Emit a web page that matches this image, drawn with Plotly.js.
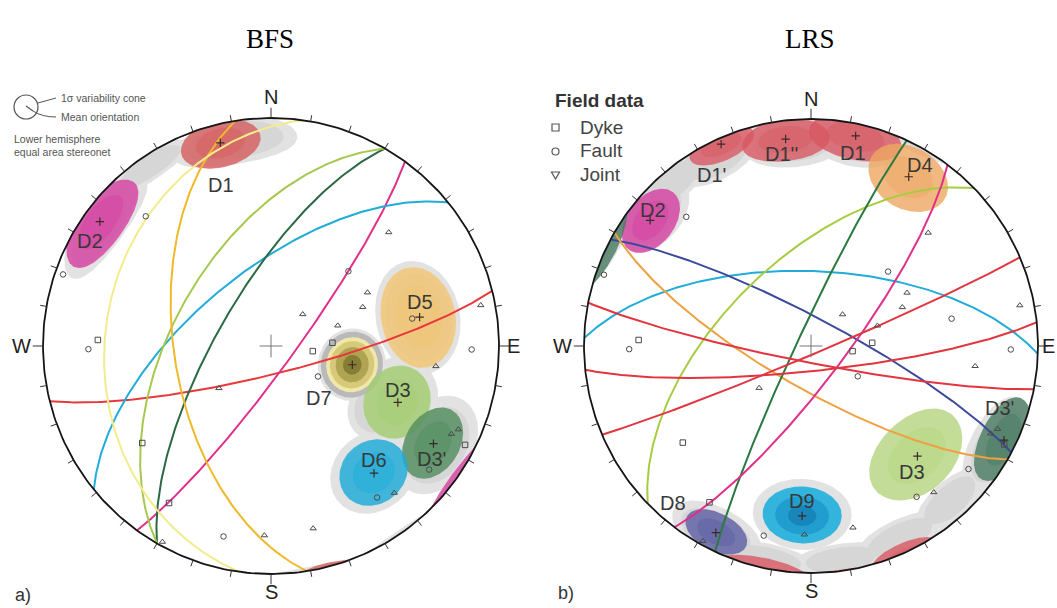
<!DOCTYPE html>
<html>
<head>
<meta charset="utf-8">
<script src="https://cdn.plot.ly/plotly-3.0.1.min.js"></script>
<style>
  html, body { margin: 0; padding: 0; background: #ffffff; }
  #chart { width: 1057px; height: 608px; }
</style>
</head>
<body>
<div id="chart"></div>
<script>
// ---------- Field data: poles as trend / plunge (degrees), same set at both sites ----------
const dykeTrend   = [272, 233, 213, 87, 97, 117];
const dykePlunge  = [25, 30, 19, 68, 75, 5];
const faultTrend  = [316, 289, 269, 194, 46, 123, 79, 91, 128, 145];
const faultPlunge = [22, 4, 21, 15, 51, 70, 37, 13, 13, 20];
const jointTrend  = [231, 209, 182, 46, 61, 67, 45, 73, 79, 97, 114, 116, 140, 167];
const jointPlunge = [66, 2, 18, 29, 50, 54, 74, 65, 7, 28, 11, 13, 17, 19];

// ---------- BFS ----------
// mean planes of the discontinuity sets (strike / dip, right-hand rule)
const bfsPlaneStrike = [76, 36, 231, 210, 210, 171, 188];
const bfsPlaneDip    = [80, 82, 63, 71, 55, 55, 28];
// discontinuity sets: mean pole and 1-sigma variability cone (semi-axes, degrees)
const bfsSetName    = ['D1', 'D2', 'D5', 'D7', 'D3', "D3'", 'D6'];
const bfsSetTrend   = [346, 306, 79, 103, 114, 121, 141];
const bfsSetPlunge  = [9, 8, 34, 60, 39, 18, 29];
const bfsConeAlong  = [11, 11, 15, 9.5, 13, 12, 13];
const bfsConeAcross = [11, 14, 16, 9.5, 12, 11, 11];
// pole-density areas
const bfsDensTrend  = [350, 306, 326, 103, 79, 114, 121, 141, 120];
const bfsDensPlunge = [9, 9, 5, 60, 34, 39, 16, 29, 45];
const bfsDensAlong  = [11, 11, 7, 12.5, 17, 16, 17, 16, 11];
const bfsDensAcross = [17, 17, 12, 12.5, 18, 15, 15, 14, 11];

// ---------- LRS ----------
const lrsPlaneStrike = [272, 298, 120, 226, 205, 37, 101, 84, 67];
const lrsPlaneDip    = [63, 80, 75, 59, 85, 78, 84, 81, 87];
const lrsSetName    = ['D1', "D1''", "D1'", 'D2', 'D4', "D3'", 'D3', 'D9', 'D8'];
const lrsSetTrend   = [12, 353, 336, 308, 30, 116, 136, 183, 207];
const lrsSetPlunge  = [6, 9, 3, 11, 15, 6, 33, 26, 8.5];
const lrsConeAlong  = [11, 10, 8, 11, 14, 11, 15, 12, 9];
const lrsConeAcross = [12.5, 12, 9, 10, 12, 12, 17, 12, 9];
const lrsDensTrend  = [333, 355, 12, 310, 320, 207, 183, 192, 172, 155, 138, 118];
const lrsDensPlunge = [7, 10, 9, 10, 6, 8, 26, 4, 5, 7, 9, 7];
const lrsDensAlong  = [11, 12, 11, 13, 9, 12, 15, 8, 8, 9, 9, 13];
const lrsDensAcross = [12, 14, 12, 12, 10, 13, 15, 12, 12, 12, 11, 14];

// ---------- styles ----------
const bfsPlaneColor = ['#e8383a', '#e0308a', '#22acd8', '#2b6a44', '#a6c84e', '#f0b92a', '#f2ec8c'];
const lrsPlaneColor = ['#22acd8', '#3c4a9c', '#f0a040', '#a8cc40', '#2a7a40', '#e0308a', '#e2353f', '#e2353f', '#e2353f'];
const bfsSetColor = ['214,92,92', '214,62,160', '242,198,112', '', '164,206,112', '80,140,92', '28,172,218'];
const lrsSetColor = ['216,88,98', '216,88,98', '216,88,98', '214,62,160', '238,168,98', '72,122,96', '180,212,126', '32,176,222', '92,94,162'];
// label offsets from the mean pole (px, right / down)
const bfsLabelDX = [1, -10, 0, -33, 0, -2, 0];
const bfsLabelDY = [42, 19, -15, 33, -12, 15, -13];
const lrsLabelDX = [-3, -4, -10, 3, 11, -5, -5, 0, -43];
const lrsLabelDY = [17, 15, 31, -10, -12, -32, 16, -15, -30];

// ---------- geometry: lower-hemisphere equal-area projection ----------
const rad = d => d * Math.PI / 180;
function lineVec(tr, pl) {
  const t = rad(tr), p = rad(pl);
  return [Math.cos(p) * Math.sin(t), Math.cos(p) * Math.cos(t), Math.sin(p)];
}
function toLower(v) {
  if (v[2] >= 0) return v;
  const h = Math.hypot(v[0], v[1]) || 1;
  return [v[0] / h, v[1] / h, 0];
}
function project(v) {
  const f = Math.sqrt(1 / (1 + v[2]));
  return [v[0] * f, v[1] * f];
}
function planeCurve(strike, dip) {
  const S = rad(strike), D = rad(dip), dd = S + Math.PI / 2;
  const s = [Math.sin(S), Math.cos(S), 0];
  const d = [Math.sin(dd) * Math.cos(D), Math.cos(dd) * Math.cos(D), Math.sin(D)];
  const xs = [], ys = [];
  for (let i = 0; i <= 180; i++) {
    const a = rad(i);
    const v = [0, 1, 2].map(k => Math.cos(a) * s[k] + Math.sin(a) * d[k]);
    const p = project(toLower(v));
    xs.push(p[0]); ys.push(p[1]);
  }
  return [xs, ys];
}
function coneParts(tr, pl, along, across, scale) {
  const t = rad(tr), p = rad(pl);
  const m = lineVec(tr, pl);
  const u = [-Math.sin(p) * Math.sin(t), -Math.sin(p) * Math.cos(t), Math.cos(p)];
  const w = [Math.cos(t), -Math.sin(t), 0];
  const A = rad(along * scale), B = rad(across * scale);
  const pts = [];
  const N = 160;
  for (let k = 0; k <= N; k++) {
    const psi = 2 * Math.PI * k / N;
    const c = Math.cos(psi), s = Math.sin(psi);
    const rho = A * B / Math.hypot(B * c, A * s);
    pts.push([0, 1, 2].map(i => Math.cos(rho) * m[i] + Math.sin(rho) * (c * u[i] + s * w[i])));
  }
  const sets = [pts.map(toLower)];
  if (pts.some(v => v[2] < 0)) sets.push(pts.map(v => toLower([-v[0], -v[1], -v[2]])));
  return sets.map(ps => {
    const pr = ps.map(project);
    return [pr.map(q => q[0]), pr.map(q => q[1])];
  });
}

// ---------- page layout ----------
const W = 1057, H = 608;
const FONT = 'Liberation Sans, Arial, sans-serif';
const SERIF = 'Liberation Serif, Times New Roman, serif';
const nets = [
  { cx: 271, cy: 346, R: 228, xr: [-1.15, 1.15], yr: [-1.14, 1.2], xa: 'x', ya: 'y',
    strike: bfsPlaneStrike, dip: bfsPlaneDip, pcol: bfsPlaneColor,
    name: bfsSetName, tr: bfsSetTrend, pl: bfsSetPlunge, ca: bfsConeAlong, cb: bfsConeAcross, scol: bfsSetColor,
    ldx: bfsLabelDX, ldy: bfsLabelDY,
    dTr: bfsDensTrend, dPl: bfsDensPlunge, dA: bfsDensAlong, dB: bfsDensAcross,
    wx: -1.095, ex: 1.065 },
  { cx: 811, cy: 346, R: 227, xr: [-1.15, 1.08], yr: [-1.14, 1.2], xa: 'x2', ya: 'y2',
    strike: lrsPlaneStrike, dip: lrsPlaneDip, pcol: lrsPlaneColor,
    name: lrsSetName, tr: lrsSetTrend, pl: lrsSetPlunge, ca: lrsConeAlong, cb: lrsConeAcross, scol: lrsSetColor,
    ldx: lrsLabelDX, ldy: lrsLabelDY,
    dTr: lrsDensTrend, dPl: lrsDensPlunge, dA: lrsDensAlong, dB: lrsDensAcross,
    wx: -1.093, ex: 1.045 }
];

const traces = [];
const annotations = [];
const shapes = [];

function fillTrace(net, xy, color) {
  traces.push({ type: 'scatter', mode: 'lines', x: xy[0], y: xy[1], fill: 'toself',
    fillcolor: color, line: { width: 0, color: 'rgba(0,0,0,0)' },
    hoverinfo: 'skip', showlegend: false, xaxis: net.xa, yaxis: net.ya });
}
function addCone(net, tr, pl, a, b, scale, color) {
  coneParts(tr, pl, a, b, scale).forEach(xy => fillTrace(net, xy, color));
}
function markers(net, trs, pls, symbol) {
  const xs = [], ys = [];
  trs.forEach((t, i) => { const p = project(lineVec(t, pls[i])); xs.push(p[0]); ys.push(p[1]); });
  traces.push({ type: 'scatter', mode: 'markers', x: xs, y: ys,
    marker: { symbol: symbol, size: 5.5, color: '#4a4a4a', line: { color: '#4a4a4a', width: 1 } },
    hoverinfo: 'skip', showlegend: false, xaxis: net.xa, yaxis: net.ya });
}

nets.forEach(net => {
  // density areas
  net.dTr.forEach((t, i) => addCone(net, t, net.dPl[i], net.dA[i], net.dB[i], 1, '#e2e2e2'));
  net.dTr.forEach((t, i) => addCone(net, t, net.dPl[i], net.dA[i], net.dB[i], 0.78, '#d6d6d6'));

  // variability cones
  net.name.forEach((n, i) => {
    const t = net.tr[i], p = net.pl[i], a = net.ca[i], b = net.cb[i];
    if (n === 'D7' && net.xa === 'x') {
      addCone(net, t, p, a, b, 1.2, '#b9b9b9');
      addCone(net, t, p, a, b, 1.0, '#f1e7a8');
      addCone(net, t, p, a, b, 0.86, '#d6ca7a');
      addCone(net, t, p, a, b, 0.64, '#aea451');
      addCone(net, t, p, a, b, 0.36, '#877e36');
    } else if (n === 'D9') {
      addCone(net, t, p, a, b, 1.0, 'rgba(' + net.scol[i] + ',0.9)');
      addCone(net, t, p, a, b, 0.68, 'rgba(20,140,195,0.55)');
      addCone(net, t, p, a, b, 0.36, 'rgba(15,110,165,0.5)');
    } else {
      addCone(net, t, p, a, b, 1.0, 'rgba(' + net.scol[i] + ',0.8)');
      addCone(net, t, p, a, b, 0.62, 'rgba(' + net.scol[i] + ',0.45)');
    }
  });

  // mean planes
  net.strike.forEach((s, i) => {
    const c = planeCurve(s, net.dip[i]);
    traces.push({ type: 'scatter', mode: 'lines', x: c[0], y: c[1],
      line: { color: net.pcol[i], width: 2 }, hoverinfo: 'skip', showlegend: false,
      xaxis: net.xa, yaxis: net.ya });
  });

  // field data
  markers(net, dykeTrend, dykePlunge, 'square-open');
  markers(net, faultTrend, faultPlunge, 'circle-open');
  markers(net, jointTrend, jointPlunge, 'triangle-up-open');

  // mean orientations and set labels
  const mx = [], my = [];
  net.name.forEach((n, i) => {
    const p = project(lineVec(net.tr[i], net.pl[i]));
    mx.push(p[0]); my.push(p[1]);
    annotations.push({ xref: net.xa, yref: net.ya, x: p[0], y: p[1], text: n, showarrow: false,
      xanchor: 'center', yanchor: 'middle',
      xshift: net.ldx[i], yshift: -net.ldy[i],
      font: { family: FONT, size: 20, color: '#383838' } });
  });
  traces.push({ type: 'scatter', mode: 'markers', x: mx, y: my,
    marker: { symbol: 'cross-thin', size: 6, line: { color: '#3a2a2a', width: 1.2 } },
    hoverinfo: 'skip', showlegend: false, xaxis: net.xa, yaxis: net.ya });

  // primitive circle, ticks, centre cross
  const cxs = [], cys = [];
  for (let i = 0; i <= 360; i++) { cxs.push(Math.sin(rad(i))); cys.push(Math.cos(rad(i))); }
  traces.push({ type: 'scatter', mode: 'lines', x: cxs, y: cys, line: { color: '#151515', width: 1.8 },
    hoverinfo: 'skip', showlegend: false, xaxis: net.xa, yaxis: net.ya });
  const tx = [], ty = [];
  for (let d = 0; d < 360; d += 10) {
    const r2 = (d % 90 === 0) ? 1.045 : 1.028;
    tx.push(Math.sin(rad(d)), r2 * Math.sin(rad(d)), null);
    ty.push(Math.cos(rad(d)), r2 * Math.cos(rad(d)), null);
  }
  traces.push({ type: 'scatter', mode: 'lines', x: tx, y: ty, line: { color: '#333', width: 1 },
    hoverinfo: 'skip', showlegend: false, xaxis: net.xa, yaxis: net.ya });
  traces.push({ type: 'scatter', mode: 'lines', x: [-0.05, 0.05, null, 0, 0], y: [0, 0, null, -0.05, 0.05],
    line: { color: '#777', width: 1 }, hoverinfo: 'skip', showlegend: false, xaxis: net.xa, yaxis: net.ya });

  // compass letters
  const letters = [['N', 0, 1.09], ['S', 0, -1.08], ['W', net.wx, 0], ['E', net.ex, 0]];
  letters.forEach(l => annotations.push({ xref: net.xa, yref: net.ya, x: l[1], y: l[2], text: l[0],
    showarrow: false, xanchor: 'center', yanchor: 'middle',
    font: { family: FONT, size: 20, color: '#222' } }));
});

// ---------- titles, panel letters, keys (paper coordinates from pixels) ----------
const px = x => x / W, py = y => (H - y) / H;
function paperText(x, y, text, font, xanchor) {
  annotations.push({ xref: 'paper', yref: 'paper', x: px(x), y: py(y), text: text,
    showarrow: false, xanchor: xanchor || 'center', yanchor: 'middle', font: font });
}
paperText(270, 39, 'BFS', { family: SERIF, size: 27, color: '#000' });
paperText(810, 39, 'LRS', { family: SERIF, size: 27, color: '#000' });
paperText(23, 595, 'a)', { family: FONT, size: 18, color: '#333' });
paperText(566, 593, 'b)', { family: FONT, size: 18, color: '#333' });

// cone key (BFS)
const keyFont = { family: FONT, size: 10.5, color: '#555' };
paperText(59, 98, '1σ variability cone', keyFont, 'left');
paperText(59, 117, 'Mean orientation', keyFont, 'left');
paperText(12, 139, 'Lower hemisphere', keyFont, 'left');
paperText(12, 152, 'equal area stereonet', keyFont, 'left');
shapes.push({ type: 'circle', xref: 'paper', yref: 'paper', x0: px(14), x1: px(38), y0: py(119), y1: py(95),
  line: { color: '#555', width: 1.2 } });
shapes.push({ type: 'line', xref: 'paper', yref: 'paper', x0: px(38), y0: py(103), x1: px(56), y1: py(98),
  line: { color: '#555', width: 1 } });
shapes.push({ type: 'line', xref: 'paper', yref: 'paper', x0: px(26), y0: py(106), x1: px(33), y1: py(111),
  line: { color: '#555', width: 1.2 } });
shapes.push({ type: 'path', xref: 'paper', yref: 'paper',
  path: 'M ' + px(33) + ' ' + py(111) + ' Q ' + px(42) + ' ' + py(117) + ' ' + px(56) + ' ' + py(117),
  line: { color: '#555', width: 1 } });

// field data key (LRS)
paperText(553, 100, '<b>Field data</b>', { family: FONT, size: 19, color: '#333' }, 'left');
paperText(578, 127, 'Dyke', { family: FONT, size: 19, color: '#444' }, 'left');
paperText(578, 151, 'Fault', { family: FONT, size: 19, color: '#444' }, 'left');
paperText(578, 175, 'Joint', { family: FONT, size: 19, color: '#444' }, 'left');
shapes.push({ type: 'rect', xref: 'paper', yref: 'paper', x0: px(552), x1: px(559), y0: py(131), y1: py(124),
  line: { color: '#555', width: 1.2 } });
shapes.push({ type: 'circle', xref: 'paper', yref: 'paper', x0: px(552), x1: px(559), y0: py(155), y1: py(148),
  line: { color: '#555', width: 1.2 } });
shapes.push({ type: 'path', xref: 'paper', yref: 'paper',
  path: 'M ' + px(551.5) + ' ' + py(172) + ' L ' + px(559.5) + ' ' + py(172) + ' L ' + px(555.5) + ' ' + py(179) + ' Z',
  line: { color: '#555', width: 1.2 } });

// ---------- axes ----------
function axisPair(net) {
  const xd = [(net.cx + net.R * net.xr[0]) / W, (net.cx + net.R * net.xr[1]) / W];
  const yd = [(H - (net.cy - net.R * net.yr[0])) / H, (H - (net.cy - net.R * net.yr[1])) / H];
  const ax = { domain: xd, range: net.xr, visible: false, fixedrange: true, showgrid: false, zeroline: false };
  const ay = { domain: yd, range: net.yr, visible: false, fixedrange: true, showgrid: false, zeroline: false };
  return [ax, ay];
}
const [xa1, ya1] = axisPair(nets[0]);
const [xa2, ya2] = axisPair(nets[1]);
ya1.anchor = 'x'; xa1.anchor = 'y';
ya2.anchor = 'x2'; xa2.anchor = 'y2';

const layout = {
  width: W, height: H, margin: { l: 0, r: 0, t: 0, b: 0 },
  paper_bgcolor: '#ffffff', plot_bgcolor: 'rgba(0,0,0,0)',
  showlegend: false,
  xaxis: xa1, yaxis: ya1, xaxis2: xa2, yaxis2: ya2,
  annotations: annotations, shapes: shapes
};

Plotly.newPlot('chart', traces, layout, { displayModeBar: false, staticPlot: true });
</script>
</body>
</html>
